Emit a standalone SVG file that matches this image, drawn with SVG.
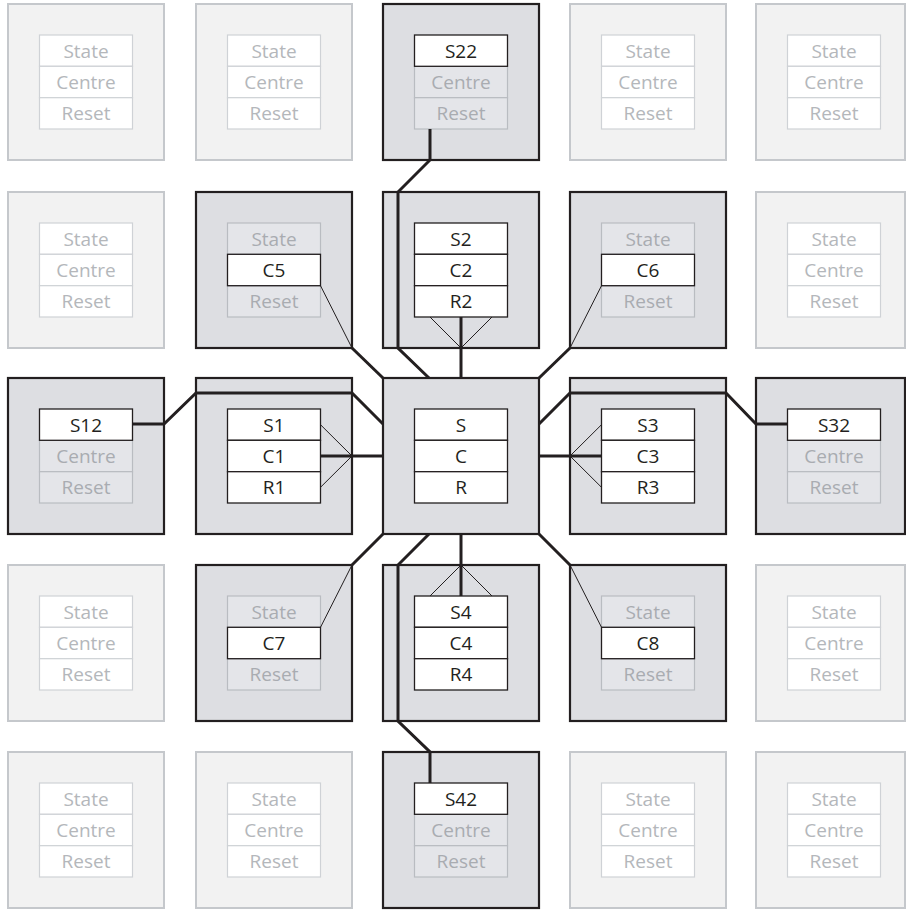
<svg xmlns="http://www.w3.org/2000/svg" width="906" height="911" viewBox="0 0 906 911">
<style>
.bg{fill:#ffffff}
.lsq{fill:#f2f2f2;stroke:#c5c8cc;stroke-width:2}
.asq{fill:#dddee2;stroke:#231f20;stroke-width:2.2}
.lc{fill:#ffffff;stroke:#cfd2d6;stroke-width:1.2}
.ic{fill:#e4e5e9;stroke:#b9bcc1;stroke-width:1.2}
.hc{fill:#ffffff;stroke:#231f20;stroke-width:1.3}
text{font-family:"Open Sans","Noto Sans","Liberation Sans",sans-serif;font-size:19px;text-anchor:middle}
.lt{fill:#b4b7bb}
.it{fill:#a9acb1}
.ht{fill:#231f20}
.thick{fill:none;stroke:#231f20;stroke-width:3;stroke-linejoin:miter}
.thin{fill:none;stroke:#231f20;stroke-width:1}
</style>
<rect class="bg" x="0" y="0" width="906" height="911"/>

<!-- Row 1 -->
<g id="n-r1c1">
<rect class="lsq" x="8" y="4" width="156" height="156"/>
<rect class="lc" x="39.5" y="35" width="93" height="31.3"/><rect class="lc" x="39.5" y="66.3" width="93" height="31.4"/><rect class="lc" x="39.5" y="97.7" width="93" height="31.3"/>
<text class="lt" x="86" y="57.5">State</text><text class="lt" x="86" y="88.8">Centre</text><text class="lt" x="86" y="120.2">Reset</text>
</g>
<g id="n-r1c2">
<rect class="lsq" x="196" y="4" width="156" height="156"/>
<rect class="lc" x="227.5" y="35" width="93" height="31.3"/><rect class="lc" x="227.5" y="66.3" width="93" height="31.4"/><rect class="lc" x="227.5" y="97.7" width="93" height="31.3"/>
<text class="lt" x="274" y="57.5">State</text><text class="lt" x="274" y="88.8">Centre</text><text class="lt" x="274" y="120.2">Reset</text>
</g>
<g id="n-S22">
<rect class="asq" x="383" y="4" width="156" height="156"/>
<rect class="ic" x="414.5" y="66.3" width="93" height="31.4"/><rect class="ic" x="414.5" y="97.7" width="93" height="31.3"/>
<rect class="hc" x="414.5" y="35" width="93" height="31.3"/>
<text class="ht" x="461" y="57.5">S22</text><text class="it" x="461" y="88.8">Centre</text><text class="it" x="461" y="120.2">Reset</text>
</g>
<g id="n-r1c4">
<rect class="lsq" x="570" y="4" width="156" height="156"/>
<rect class="lc" x="601.5" y="35" width="93" height="31.3"/><rect class="lc" x="601.5" y="66.3" width="93" height="31.4"/><rect class="lc" x="601.5" y="97.7" width="93" height="31.3"/>
<text class="lt" x="648" y="57.5">State</text><text class="lt" x="648" y="88.8">Centre</text><text class="lt" x="648" y="120.2">Reset</text>
</g>
<g id="n-r1c5">
<rect class="lsq" x="756" y="4" width="149" height="156"/>
<rect class="lc" x="787.5" y="35" width="93" height="31.3"/><rect class="lc" x="787.5" y="66.3" width="93" height="31.4"/><rect class="lc" x="787.5" y="97.7" width="93" height="31.3"/>
<text class="lt" x="834" y="57.5">State</text><text class="lt" x="834" y="88.8">Centre</text><text class="lt" x="834" y="120.2">Reset</text>
</g>

<!-- Row 2 -->
<g id="n-r2c1">
<rect class="lsq" x="8" y="192" width="156" height="156"/>
<rect class="lc" x="39.5" y="223" width="93" height="31.3"/><rect class="lc" x="39.5" y="254.3" width="93" height="31.4"/><rect class="lc" x="39.5" y="285.7" width="93" height="31.3"/>
<text class="lt" x="86" y="245.5">State</text><text class="lt" x="86" y="276.8">Centre</text><text class="lt" x="86" y="308.2">Reset</text>
</g>
<g id="n-C5">
<rect class="asq" x="196" y="192" width="156" height="156"/>
<rect class="ic" x="227.5" y="223" width="93" height="31.3"/><rect class="ic" x="227.5" y="285.7" width="93" height="31.3"/>
<rect class="hc" x="227.5" y="254.3" width="93" height="31.4"/>
<text class="it" x="274" y="245.5">State</text><text class="ht" x="274" y="276.8">C5</text><text class="it" x="274" y="308.2">Reset</text>
</g>
<g id="n-S2">
<rect class="asq" x="383" y="192" width="156" height="156"/>
<rect class="hc" x="414.5" y="223" width="93" height="31.3"/><rect class="hc" x="414.5" y="254.3" width="93" height="31.4"/><rect class="hc" x="414.5" y="285.7" width="93" height="31.3"/>
<text class="ht" x="461" y="245.5">S2</text><text class="ht" x="461" y="276.8">C2</text><text class="ht" x="461" y="308.2">R2</text>
</g>
<g id="n-C6">
<rect class="asq" x="570" y="192" width="156" height="156"/>
<rect class="ic" x="601.5" y="223" width="93" height="31.3"/><rect class="ic" x="601.5" y="285.7" width="93" height="31.3"/>
<rect class="hc" x="601.5" y="254.3" width="93" height="31.4"/>
<text class="it" x="648" y="245.5">State</text><text class="ht" x="648" y="276.8">C6</text><text class="it" x="648" y="308.2">Reset</text>
</g>
<g id="n-r2c5">
<rect class="lsq" x="756" y="192" width="149" height="156"/>
<rect class="lc" x="787.5" y="223" width="93" height="31.3"/><rect class="lc" x="787.5" y="254.3" width="93" height="31.4"/><rect class="lc" x="787.5" y="285.7" width="93" height="31.3"/>
<text class="lt" x="834" y="245.5">State</text><text class="lt" x="834" y="276.8">Centre</text><text class="lt" x="834" y="308.2">Reset</text>
</g>

<!-- Row 3 -->
<g id="n-S12">
<rect class="asq" x="8" y="378" width="156" height="156"/>
<rect class="ic" x="39.5" y="440.3" width="93" height="31.4"/><rect class="ic" x="39.5" y="471.7" width="93" height="31.3"/>
<rect class="hc" x="39.5" y="409" width="93" height="31.3"/>
<text class="ht" x="86" y="431.5">S12</text><text class="it" x="86" y="462.8">Centre</text><text class="it" x="86" y="494.2">Reset</text>
</g>
<g id="n-S1">
<rect class="asq" x="196" y="378" width="156" height="156"/>
<rect class="hc" x="227.5" y="409" width="93" height="31.3"/><rect class="hc" x="227.5" y="440.3" width="93" height="31.4"/><rect class="hc" x="227.5" y="471.7" width="93" height="31.3"/>
<text class="ht" x="274" y="431.5">S1</text><text class="ht" x="274" y="462.8">C1</text><text class="ht" x="274" y="494.2">R1</text>
</g>
<g id="n-S">
<rect class="asq" x="383" y="378" width="156" height="156"/>
<rect class="hc" x="414.5" y="409" width="93" height="31.3"/><rect class="hc" x="414.5" y="440.3" width="93" height="31.4"/><rect class="hc" x="414.5" y="471.7" width="93" height="31.3"/>
<text class="ht" x="461" y="431.5">S</text><text class="ht" x="461" y="462.8">C</text><text class="ht" x="461" y="494.2">R</text>
</g>
<g id="n-S3">
<rect class="asq" x="570" y="378" width="156" height="156"/>
<rect class="hc" x="601.5" y="409" width="93" height="31.3"/><rect class="hc" x="601.5" y="440.3" width="93" height="31.4"/><rect class="hc" x="601.5" y="471.7" width="93" height="31.3"/>
<text class="ht" x="648" y="431.5">S3</text><text class="ht" x="648" y="462.8">C3</text><text class="ht" x="648" y="494.2">R3</text>
</g>
<g id="n-S32">
<rect class="asq" x="756" y="378" width="149" height="156"/>
<rect class="ic" x="787.5" y="440.3" width="93" height="31.4"/><rect class="ic" x="787.5" y="471.7" width="93" height="31.3"/>
<rect class="hc" x="787.5" y="409" width="93" height="31.3"/>
<text class="ht" x="834" y="431.5">S32</text><text class="it" x="834" y="462.8">Centre</text><text class="it" x="834" y="494.2">Reset</text>
</g>

<!-- Row 4 -->
<g id="n-r4c1">
<rect class="lsq" x="8" y="565" width="156" height="156"/>
<rect class="lc" x="39.5" y="596" width="93" height="31.3"/><rect class="lc" x="39.5" y="627.3" width="93" height="31.4"/><rect class="lc" x="39.5" y="658.7" width="93" height="31.3"/>
<text class="lt" x="86" y="618.5">State</text><text class="lt" x="86" y="649.8">Centre</text><text class="lt" x="86" y="681.2">Reset</text>
</g>
<g id="n-C7">
<rect class="asq" x="196" y="565" width="156" height="156"/>
<rect class="ic" x="227.5" y="596" width="93" height="31.3"/><rect class="ic" x="227.5" y="658.7" width="93" height="31.3"/>
<rect class="hc" x="227.5" y="627.3" width="93" height="31.4"/>
<text class="it" x="274" y="618.5">State</text><text class="ht" x="274" y="649.8">C7</text><text class="it" x="274" y="681.2">Reset</text>
</g>
<g id="n-S4">
<rect class="asq" x="383" y="565" width="156" height="156"/>
<rect class="hc" x="414.5" y="596" width="93" height="31.3"/><rect class="hc" x="414.5" y="627.3" width="93" height="31.4"/><rect class="hc" x="414.5" y="658.7" width="93" height="31.3"/>
<text class="ht" x="461" y="618.5">S4</text><text class="ht" x="461" y="649.8">C4</text><text class="ht" x="461" y="681.2">R4</text>
</g>
<g id="n-C8">
<rect class="asq" x="570" y="565" width="156" height="156"/>
<rect class="ic" x="601.5" y="596" width="93" height="31.3"/><rect class="ic" x="601.5" y="658.7" width="93" height="31.3"/>
<rect class="hc" x="601.5" y="627.3" width="93" height="31.4"/>
<text class="it" x="648" y="618.5">State</text><text class="ht" x="648" y="649.8">C8</text><text class="it" x="648" y="681.2">Reset</text>
</g>
<g id="n-r4c5">
<rect class="lsq" x="756" y="565" width="149" height="156"/>
<rect class="lc" x="787.5" y="596" width="93" height="31.3"/><rect class="lc" x="787.5" y="627.3" width="93" height="31.4"/><rect class="lc" x="787.5" y="658.7" width="93" height="31.3"/>
<text class="lt" x="834" y="618.5">State</text><text class="lt" x="834" y="649.8">Centre</text><text class="lt" x="834" y="681.2">Reset</text>
</g>

<!-- Row 5 -->
<g id="n-r5c1">
<rect class="lsq" x="8" y="752" width="156" height="156"/>
<rect class="lc" x="39.5" y="783" width="93" height="31.3"/><rect class="lc" x="39.5" y="814.3" width="93" height="31.4"/><rect class="lc" x="39.5" y="845.7" width="93" height="31.3"/>
<text class="lt" x="86" y="805.5">State</text><text class="lt" x="86" y="836.8">Centre</text><text class="lt" x="86" y="868.2">Reset</text>
</g>
<g id="n-r5c2">
<rect class="lsq" x="196" y="752" width="156" height="156"/>
<rect class="lc" x="227.5" y="783" width="93" height="31.3"/><rect class="lc" x="227.5" y="814.3" width="93" height="31.4"/><rect class="lc" x="227.5" y="845.7" width="93" height="31.3"/>
<text class="lt" x="274" y="805.5">State</text><text class="lt" x="274" y="836.8">Centre</text><text class="lt" x="274" y="868.2">Reset</text>
</g>
<g id="n-S42">
<rect class="asq" x="383" y="752" width="156" height="156"/>
<rect class="ic" x="414.5" y="814.3" width="93" height="31.4"/><rect class="ic" x="414.5" y="845.7" width="93" height="31.3"/>
<rect class="hc" x="414.5" y="783" width="93" height="31.3"/>
<text class="ht" x="461" y="805.5">S42</text><text class="it" x="461" y="836.8">Centre</text><text class="it" x="461" y="868.2">Reset</text>
</g>
<g id="n-r5c4">
<rect class="lsq" x="570" y="752" width="156" height="156"/>
<rect class="lc" x="601.5" y="783" width="93" height="31.3"/><rect class="lc" x="601.5" y="814.3" width="93" height="31.4"/><rect class="lc" x="601.5" y="845.7" width="93" height="31.3"/>
<text class="lt" x="648" y="805.5">State</text><text class="lt" x="648" y="836.8">Centre</text><text class="lt" x="648" y="868.2">Reset</text>
</g>
<g id="n-r5c5">
<rect class="lsq" x="756" y="752" width="149" height="156"/>
<rect class="lc" x="787.5" y="783" width="93" height="31.3"/><rect class="lc" x="787.5" y="814.3" width="93" height="31.4"/><rect class="lc" x="787.5" y="845.7" width="93" height="31.3"/>
<text class="lt" x="834" y="805.5">State</text><text class="lt" x="834" y="836.8">Centre</text><text class="lt" x="834" y="868.2">Reset</text>
</g>

<g id="connectors">
<!-- direct neighbours -->
<path class="thick" d="M461,317 V378"/>
<path class="thin" d="M430,317 L461,348 L492,317"/>
<path class="thick" d="M461,534 V596"/>
<path class="thin" d="M430,596 L461,565 L492,596"/>
<path class="thick" d="M320.5,456 H383"/>
<path class="thin" d="M320.5,424.7 L352,456 L320.5,487.3"/>
<path class="thick" d="M539,456 H601.5"/>
<path class="thin" d="M601.5,424.7 L570,456 L601.5,487.3"/>
<!-- diagonal neighbours -->
<path class="thin" d="M320.5,285.7 L352,348"/>
<path class="thick" d="M352,348 L383,378"/>
<path class="thin" d="M601.5,285.7 L570,348"/>
<path class="thick" d="M570,348 L539,378"/>
<path class="thin" d="M320.5,627.3 L352,565"/>
<path class="thick" d="M352,565 L383,534"/>
<path class="thin" d="M601.5,627.3 L570,565"/>
<path class="thick" d="M570,565 L539,534"/>
<!-- second ring -->
<path class="thick" d="M430,129 V160 L398,192 V348 L429,378"/>
<path class="thick" d="M429,534 L398,565 V721 L430,752 V783"/>
<path class="thick" d="M132.5,424 H164 L196,393 H352 L383,424"/>
<path class="thick" d="M539,424 L570,393 H726 L756,424 H787.5"/>
</g>
</svg>
